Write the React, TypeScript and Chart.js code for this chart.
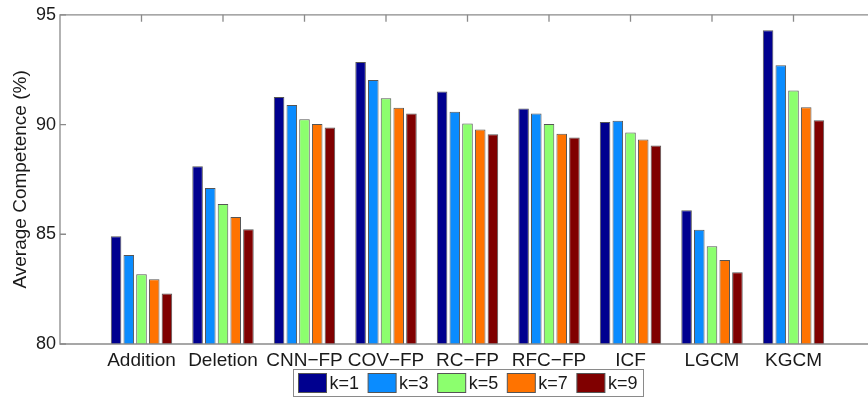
import React, { useEffect, useRef } from 'react';
import { Chart, registerables } from 'chart.js';

Chart.register(...registerables);

const categories = ['Addition', 'Deletion', 'CNN−FP', 'COV−FP', 'RC−FP', 'RFC−FP', 'ICF', 'LGCM', 'KGCM'];
const seriesLabels = ['k=1', 'k=3', 'k=5', 'k=7', 'k=9'];
const k1 = [84.91, 88.10, 91.26, 92.85, 91.50, 90.73, 90.12, 86.09, 94.30];
const k3 = [84.06, 87.11, 90.89, 92.03, 90.58, 90.50, 90.17, 85.21, 92.70];
const k5 = [83.18, 86.38, 90.24, 91.20, 90.05, 90.02, 89.64, 84.45, 91.55];
const k7 = [82.95, 85.79, 90.02, 90.77, 89.77, 89.58, 89.32, 83.83, 90.79];
const k9 = [82.30, 85.23, 89.86, 90.50, 89.56, 89.41, 89.05, 83.27, 90.20];
const seriesValues = [k1, k3, k5, k7, k9];
const colors = ['#00008f', '#0a8cff', '#8cff6e', '#ff7300', '#800000'];
const yTicks = [80, 85, 90, 95];
const yTitle = 'Average Competence (%)';

const FONT = '"Liberation Sans", Arial, Helvetica, sans-serif';
const AXIS_COLOR = '#8a8a8a';
const TEXT_COLOR = '#1a1a1a';

const framePlugin = {
  id: 'matlabFrame',
  afterDatasetsDraw(chart: any) {
    const { ctx, chartArea } = chart;
    const { left, right, top, bottom } = chartArea;
    const xs = chart.scales.x;
    const ys = chart.scales.y;
    ctx.save();
    ctx.strokeStyle = AXIS_COLOR;
    ctx.lineWidth = 1.3;
    ctx.beginPath();
    ctx.rect(left, top, right - left, bottom - top);
    ctx.stroke();
    ctx.beginPath();
    for (let i = 1; i <= categories.length; i++) {
      const x = xs.getPixelForValue(i);
      ctx.moveTo(x, top);
      ctx.lineTo(x, top + 7);
    }
    yTicks.forEach((v) => {
      const y = ys.getPixelForValue(v);
      ctx.moveTo(left, y);
      ctx.lineTo(left + 6, y);
      ctx.moveTo(right, y);
      ctx.lineTo(right - 6, y);
    });
    ctx.stroke();
    ctx.restore();
  },
  afterDraw(chart: any) {
    const { ctx } = chart;
    ctx.save();
    const bx = 293.5, by = 369.5, bw = 350, bh = 27;
    ctx.fillStyle = '#ffffff';
    ctx.fillRect(bx, by, bw, bh);
    ctx.strokeStyle = '#8a8a8a';
    ctx.lineWidth = 1;
    ctx.strokeRect(bx, by, bw, bh);
    ctx.font = `18px ${FONT}`;
    ctx.textBaseline = 'middle';
    ctx.textAlign = 'left';
    seriesLabels.forEach((lab, i) => {
      const sx = 298.5 + i * 69.6;
      ctx.fillStyle = colors[i];
      ctx.fillRect(sx, 373.5, 28, 19);
      ctx.strokeStyle = '#555555';
      ctx.strokeRect(sx, 373.5, 28, 19);
      ctx.fillStyle = TEXT_COLOR;
      ctx.fillText(lab, sx + 31, 384);
    });
    ctx.restore();
  },
};

export default function App() {
  const ref = useRef<HTMLCanvasElement | null>(null);
  useEffect(() => {
    if (!ref.current) return;
    const labels = ['', ...categories, ''];
    const chart = new Chart(ref.current, {
      type: 'bar',
      data: {
        labels,
        datasets: seriesValues.map((vals, i) => ({
          label: seriesLabels[i],
          data: [null, ...vals, null],
          backgroundColor: colors[i],
          borderColor: '#555555',
          borderWidth: 1,
          borderSkipped: 'start',
          categoryPercentage: 0.78,
          barPercentage: 0.83,
        })),
      },
      options: {
        responsive: false,
        animation: false,
        devicePixelRatio: 1,
        layout: { padding: { left: 0, top: 14, right: 3.4, bottom: 0 } },
        plugins: { legend: { display: false }, tooltip: { enabled: false } },
        scales: {
          x: {
            offset: false,
            grid: { display: false, drawTicks: false },
            border: { display: false },
            ticks: {
              autoSkip: false,
              maxRotation: 0,
              padding: 5,
              color: TEXT_COLOR,
              font: { family: FONT, size: 19 },
            },
            afterFit: (s: any) => { s.height = 53; },
          },
          y: {
            min: 80,
            max: 95,
            grid: { display: false, drawTicks: false },
            border: { display: false },
            ticks: {
              stepSize: 5,
              padding: 4,
              color: TEXT_COLOR,
              font: { family: FONT, size: 18 },
            },
            title: {
              display: true,
              text: yTitle,
              color: TEXT_COLOR,
              font: { family: FONT, size: 19 },
              padding: { top: 9, bottom: 0 },
            },
            afterFit: (s: any) => { s.width = 60; },
          },
        },
      },
      plugins: [framePlugin],
    });
    return () => chart.destroy();
  }, []);
  return (
    <div style={{ position: 'fixed', left: 0, top: 0, width: 868, height: 397, overflow: 'hidden', background: '#fff' }}>
      <canvas ref={ref} width={880} height={397} style={{ display: 'block' }} />
    </div>
  );
}
